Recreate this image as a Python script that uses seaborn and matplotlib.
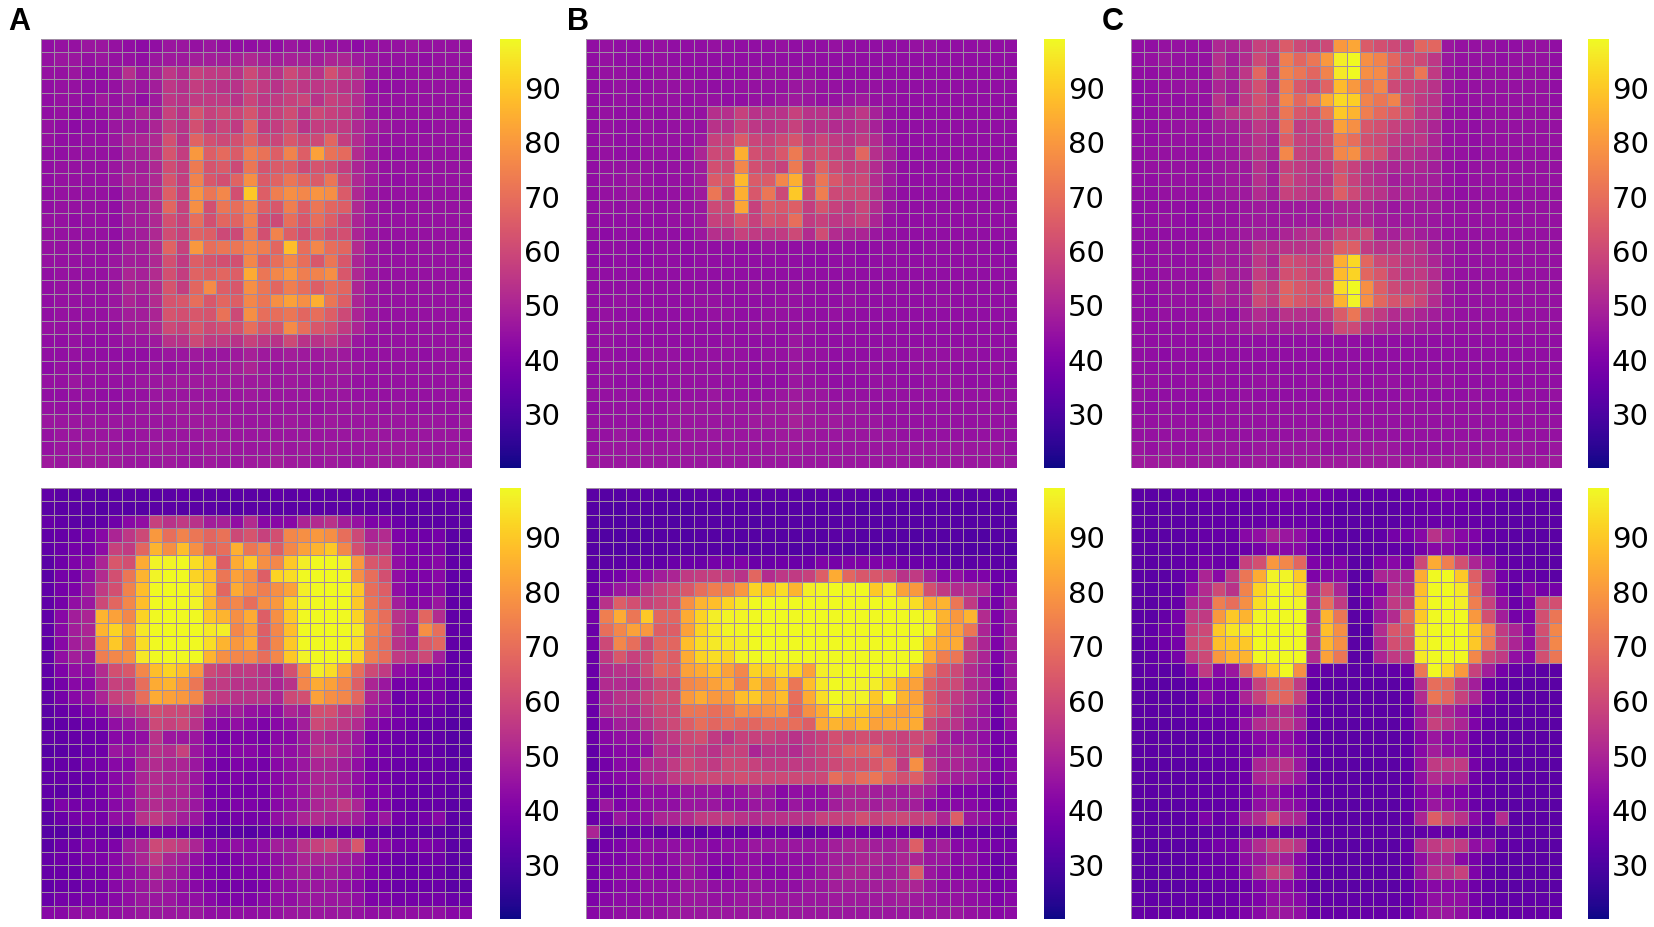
import numpy as np
import seaborn as sns
import matplotlib.pyplot as plt

a_top = [
    [44,45,45,46,46,45,44,43,44,46,46,45,46,45,44,44,45,44,46,45,46,45,45,43,45,45,45,46,45,45,45,45],
    [45,46,46,45,46,45,45,44,46,47,47,48,48,48,49,51,49,48,49,49,48,50,50,47,46,45,45,45,44,45,45,45],
    [45,45,46,44,44,46,53,47,49,55,52,58,56,56,54,60,55,54,60,56,54,62,56,53,46,45,44,45,45,45,45,45],
    [44,45,45,44,44,45,48,46,48,55,53,57,55,54,54,59,56,54,58,55,55,56,54,52,45,44,44,45,45,45,45,45],
    [44,45,45,44,47,45,47,44,47,55,54,56,56,56,54,59,55,56,58,59,54,58,56,52,46,45,45,45,45,45,45,45],
    [44,45,44,44,45,46,47,50,48,58,54,63,58,60,59,63,57,58,61,55,60,58,56,52,46,45,45,45,45,45,45,45],
    [45,44,43,44,44,46,47,47,50,57,54,62,56,59,56,67,56,57,61,54,57,57,56,51,48,46,45,45,44,45,45,45],
    [45,44,44,45,45,46,50,50,51,62,54,67,62,60,62,67,60,59,64,60,60,68,57,52,47,45,45,45,45,45,45,45],
    [44,44,45,45,45,45,49,49,52,63,57,80,66,69,65,74,71,66,75,66,82,71,69,52,47,45,44,45,45,45,45,45],
    [44,45,45,45,45,46,48,48,51,61,57,73,63,65,60,72,63,65,66,60,63,62,57,50,47,45,45,45,45,45,45,45],
    [44,45,45,45,45,46,50,49,51,63,57,75,64,62,67,78,65,67,72,68,65,72,60,51,47,45,44,45,45,45,45,45],
    [44,45,45,45,45,44,48,48,52,66,58,79,72,76,62,90,66,74,78,76,79,78,65,51,46,45,45,45,45,45,45,45],
    [44,45,45,45,45,44,48,48,52,68,58,78,62,72,70,76,66,64,74,66,72,68,66,51,46,45,44,45,45,45,45,45],
    [45,45,44,45,45,44,48,48,51,62,58,70,62,68,67,75,62,60,70,64,70,66,60,50,46,45,45,45,45,45,45,45],
    [45,45,45,45,45,44,47,48,51,61,58,67,66,60,60,74,62,75,66,62,66,62,62,50,46,45,45,45,45,45,45,45],
    [45,45,45,45,45,45,48,48,52,67,58,80,70,72,72,76,74,68,88,70,76,70,68,52,46,45,44,45,45,45,45,45],
    [45,45,45,45,45,46,48,48,51,62,56,66,63,62,62,76,66,70,76,70,64,72,64,50,46,45,45,45,45,45,45,45],
    [44,45,45,45,45,46,50,49,52,62,57,67,66,68,66,84,72,76,80,74,75,78,64,51,46,45,45,45,45,45,45,45],
    [44,45,45,45,45,46,50,49,52,63,57,68,77,66,64,78,72,68,74,70,66,70,68,50,46,45,45,45,45,45,45,45],
    [44,45,45,45,45,46,50,48,52,63,64,70,64,68,66,76,72,78,82,78,85,72,66,50,46,45,45,45,45,45,45,45],
    [44,45,45,45,45,46,48,48,50,63,62,64,63,71,60,78,70,70,72,68,70,66,60,50,46,45,45,45,45,45,45,45],
    [45,45,45,45,45,45,48,48,51,60,58,64,60,62,62,70,64,64,77,70,64,62,56,50,46,45,45,45,45,45,45,45],
    [44,44,45,44,44,45,46,46,47,54,54,60,56,56,54,58,55,54,60,54,54,56,52,46,45,45,45,45,45,45,45,45],
    [44,44,45,44,44,44,44,44,45,46,46,47,46,46,47,49,47,47,48,47,47,48,47,45,45,45,45,45,44,45,45,45],
    [43,45,44,45,45,45,45,45,46,45,46,46,47,47,48,50,47,46,47,47,46,47,47,46,45,45,45,45,45,45,45,45],
    [45,45,46,45,45,45,45,46,46,47,47,47,47,47,47,47,47,46,47,46,46,47,46,45,45,45,45,45,45,45,45,45],
    [44,44,45,45,44,44,45,45,46,46,46,46,46,46,46,47,46,46,46,46,46,46,46,45,45,45,45,45,45,45,45,45],
    [45,45,45,45,45,45,45,46,46,47,47,47,47,46,46,46,46,46,46,46,45,46,46,46,46,45,46,45,45,45,45,45],
    [46,46,46,46,46,46,46,46,46,46,47,47,47,47,46,46,46,46,47,46,46,47,46,46,46,46,46,46,46,46,45,46],
    [45,46,46,46,46,46,45,46,46,46,46,46,47,46,46,46,46,46,46,46,46,46,46,46,47,46,46,46,46,46,46,45],
    [45,46,46,47,47,46,46,46,47,47,46,46,47,47,46,46,46,47,46,47,46,47,46,46,46,47,47,47,46,46,46,46],
    [47,46,47,47,47,47,46,46,46,47,46,46,47,46,46,47,47,48,47,47,46,47,46,46,47,47,47,47,47,46,47,47],
]

b_top = [
    [44,45,44,44,44,45,44,44,44,45,44,44,44,44,45,44,44,44,45,44,44,44,44,44,45,45,44,44,44,45,44,44],
    [44,45,44,44,44,45,44,44,44,44,44,44,44,44,44,44,44,44,44,44,44,44,44,44,44,44,44,44,44,44,44,44],
    [44,45,45,44,44,45,45,44,44,44,44,44,45,45,45,45,45,44,44,44,44,44,44,44,44,44,44,44,44,44,44,44],
    [44,44,45,44,44,45,45,45,44,44,44,45,45,45,45,46,46,45,45,44,45,45,44,44,44,44,44,44,44,44,44,44],
    [44,44,45,44,45,45,45,44,45,45,44,44,45,45,46,47,46,45,45,46,47,45,45,44,44,44,44,44,44,44,44,44],
    [44,45,44,44,45,44,45,45,45,53,53,58,54,54,54,58,54,54,52,52,55,49,45,44,44,44,44,44,44,44,44,44],
    [44,45,44,44,45,44,45,45,45,54,53,58,55,54,55,58,53,54,52,52,54,49,45,44,44,44,44,44,44,44,44,44],
    [44,45,44,44,45,45,45,45,46,58,58,65,59,58,60,63,56,59,56,54,56,52,46,44,44,44,44,44,44,44,44,44],
    [44,45,44,44,45,45,45,45,50,60,60,85,62,60,64,73,60,62,58,56,68,53,49,44,44,44,44,44,44,44,44,44],
    [44,45,45,45,45,44,45,45,47,62,60,76,62,60,58,73,58,67,60,57,58,52,47,44,44,44,44,44,44,44,44,44],
    [44,45,45,46,45,44,45,45,47,65,64,87,65,65,76,85,60,72,64,59,60,52,47,44,44,44,44,44,44,44,44,44],
    [44,45,45,46,45,44,45,45,47,72,60,85,64,72,60,90,60,74,60,60,60,53,46,44,44,44,44,44,44,44,44,44],
    [44,45,44,45,45,44,45,45,46,60,60,83,58,65,64,66,57,63,58,55,59,52,46,44,44,44,44,44,44,44,44,44],
    [44,44,44,44,44,44,45,45,46,58,58,64,58,63,62,70,56,58,55,56,58,50,45,44,44,44,44,44,44,44,44,44],
    [44,43,44,44,44,44,44,44,46,53,53,58,56,55,56,60,52,61,52,50,50,46,45,44,44,44,44,44,44,44,44,44],
    [43,44,44,43,43,44,44,43,44,44,44,44,44,45,44,44,44,44,44,44,43,44,44,44,43,44,44,44,44,44,43,43],
    [43,43,44,43,43,44,44,43,44,44,44,44,44,44,44,44,43,43,44,44,43,44,44,44,44,44,44,44,44,44,44,43],
    [44,44,44,44,44,44,44,44,44,44,44,44,44,44,44,44,44,44,44,44,44,44,44,44,44,44,44,44,44,44,44,44],
    [44,44,44,44,44,44,44,44,44,44,44,44,45,44,44,45,44,44,44,44,44,44,44,44,44,44,44,44,44,44,44,44],
    [44,44,45,44,44,44,44,44,45,45,44,44,44,44,45,45,44,44,44,45,44,44,44,44,44,44,45,44,44,44,44,44],
    [44,45,44,44,44,44,44,44,44,45,45,44,44,45,45,45,44,44,45,44,44,44,44,44,44,44,44,44,44,44,44,44],
    [44,45,45,44,44,44,44,44,44,44,44,44,45,45,44,45,45,44,44,44,44,44,44,44,44,44,44,44,44,44,44,44],
    [44,45,44,44,44,44,44,44,44,44,45,44,44,44,44,46,44,44,44,44,44,44,44,44,44,44,44,44,44,44,44,44],
    [44,45,44,44,45,45,45,44,45,45,45,45,44,45,45,46,45,45,44,44,44,44,45,44,45,45,45,45,45,44,44,44],
    [44,45,45,44,45,45,45,45,45,45,45,45,44,45,44,46,45,44,44,44,45,45,44,44,45,45,45,44,44,44,45,44],
    [44,45,44,44,44,44,45,45,45,45,45,45,44,44,44,46,45,45,44,44,44,45,45,44,44,45,45,45,44,44,44,44],
    [45,45,45,45,45,45,45,45,45,46,45,45,45,45,46,47,46,46,45,45,45,45,45,45,45,45,45,45,45,45,45,45],
    [44,45,45,45,45,45,46,46,46,46,46,46,46,47,47,48,47,46,46,46,46,45,45,45,45,45,45,45,45,45,45,45],
    [45,45,45,45,45,45,46,46,46,46,46,46,47,47,47,49,47,47,47,46,46,46,45,45,45,45,45,45,45,45,45,45],
    [45,45,46,45,45,45,46,46,46,46,46,46,46,46,47,47,47,46,46,46,46,46,46,45,45,45,45,45,45,45,45,45],
    [45,46,46,46,46,46,46,46,46,46,46,46,46,46,47,47,46,46,46,46,46,46,46,46,46,46,46,46,46,46,46,45],
    [46,46,46,46,46,46,46,46,46,46,46,46,46,46,46,46,46,46,46,46,46,46,46,46,46,46,46,46,46,46,46,46],
]

c_top = [
    [44,44,45,45,45,45,51,50,52,58,57,65,60,58,60,80,83,65,62,60,58,68,68,46,45,45,45,44,44,45,45,44],
    [44,45,46,45,45,45,53,48,52,60,55,74,68,72,80,97,99,78,75,68,62,60,55,46,45,45,45,44,45,45,45,44],
    [44,44,45,45,45,45,53,49,55,68,55,75,72,68,75,96,99,78,77,66,62,72,56,46,45,45,45,45,45,45,45,44],
    [43,44,45,45,46,45,50,48,56,62,54,74,64,60,67,87,80,72,76,60,58,57,54,46,45,45,45,45,45,45,45,44],
    [43,44,45,44,45,45,54,48,56,62,57,76,68,73,84,93,91,75,72,75,60,56,54,46,45,45,45,45,45,45,45,44],
    [43,44,45,45,45,45,52,55,56,60,56,72,64,62,72,90,86,74,69,66,62,55,54,45,45,44,45,45,45,45,45,45],
    [44,44,45,45,46,45,48,48,50,55,52,70,56,58,60,82,78,64,62,58,56,54,50,45,45,44,45,45,45,45,45,45],
    [44,44,45,45,45,45,47,47,50,54,50,66,58,56,60,74,70,62,60,56,54,55,50,45,45,44,45,45,45,45,45,45],
    [44,45,45,45,45,45,47,47,50,54,50,76,58,56,60,76,78,64,62,54,54,52,50,45,45,44,45,45,45,45,45,45],
    [44,45,45,45,45,45,46,47,47,53,48,58,56,54,55,62,58,54,52,50,50,50,48,45,44,45,45,45,45,45,45,45],
    [44,44,45,45,45,45,46,47,47,53,48,60,56,54,54,64,58,54,52,48,49,49,48,45,44,45,45,45,45,45,45,45],
    [44,44,45,45,45,45,46,47,47,52,48,58,56,54,56,66,60,55,54,50,50,49,48,45,44,45,45,45,45,45,45,45],
    [43,44,44,44,43,45,45,45,46,47,46,47,47,47,48,50,50,50,48,46,47,47,47,45,45,45,45,45,44,45,45,45],
    [43,44,45,44,43,45,45,45,46,47,46,47,47,47,48,50,50,50,48,47,47,47,46,45,45,45,45,45,45,45,45,45],
    [44,44,44,44,44,45,45,46,47,48,47,50,52,54,52,58,58,60,50,49,50,48,47,45,45,45,45,45,45,45,45,45],
    [43,44,45,44,45,45,48,47,48,54,52,54,54,54,58,66,66,56,54,54,54,53,48,46,45,45,45,45,45,45,45,45],
    [44,44,45,44,45,45,48,47,48,55,50,62,60,58,60,85,93,68,60,58,55,54,50,46,45,45,45,45,45,45,45,45],
    [44,44,45,45,45,45,52,48,48,57,52,62,62,58,60,87,92,68,64,58,55,56,52,46,45,45,45,45,45,45,45,45],
    [44,44,45,45,45,45,52,48,49,60,56,67,64,62,62,94,99,78,66,60,58,58,53,46,45,45,45,45,45,45,45,45],
    [44,43,45,45,45,45,50,48,49,60,56,67,64,62,65,86,98,78,68,63,63,59,52,46,45,45,45,45,45,45,45,45],
    [44,44,45,44,45,45,46,44,48,52,49,54,53,52,56,65,72,60,56,52,52,50,48,46,45,45,45,45,45,45,45,45],
    [44,44,44,44,45,45,46,46,47,49,47,48,48,48,50,60,60,52,50,48,48,47,46,45,45,45,45,45,45,45,45,45],
    [44,44,44,44,44,44,44,44,44,44,44,44,44,44,44,44,44,44,44,44,44,44,44,44,44,44,44,44,44,44,44,44],
    [44,44,43,44,44,44,44,44,44,44,44,44,44,44,44,44,44,44,44,44,44,44,44,44,44,44,44,44,44,44,44,44],
    [44,44,44,44,44,44,44,44,44,44,44,44,44,44,44,44,44,44,44,44,44,44,44,44,44,44,44,44,44,44,44,44],
    [44,45,44,44,45,45,45,44,44,45,45,44,44,45,44,44,45,44,45,45,44,45,45,45,44,44,44,45,44,44,44,44],
    [45,44,44,44,44,44,44,44,45,44,44,44,44,44,45,44,45,44,44,44,45,44,44,44,44,45,44,44,44,45,44,45],
    [44,44,45,44,44,44,44,45,45,45,45,45,45,45,45,45,45,45,45,45,45,45,45,45,45,45,45,45,45,45,44,44],
    [45,45,45,45,45,45,45,45,45,45,45,45,45,45,45,45,45,45,45,45,45,45,45,45,45,45,45,45,45,45,45,45],
    [45,45,45,45,45,46,45,45,45,45,45,45,45,46,45,45,46,45,45,45,45,45,45,45,45,45,45,45,45,45,45,45],
    [46,45,46,45,45,46,46,46,45,46,46,46,46,46,45,45,46,46,47,46,45,45,45,45,46,45,46,46,46,46,45,46],
    [47,47,47,47,46,47,46,46,46,47,46,46,47,47,47,47,47,47,47,47,47,47,47,47,47,47,47,47,47,46,47,47],
]

a_bottom = [
    [34,33,33,33,32,33,33,33,33,33,34,33,33,33,33,33,33,34,33,34,33,33,33,33,33,33,33,33,33,33,34,33],
    [33,33,33,33,32,33,32,32,33,33,32,33,33,32,32,33,33,33,33,33,33,33,33,33,33,33,32,33,33,33,33,33],
    [35,34,33,33,34,37,42,44,58,54,56,54,48,49,44,52,42,42,42,50,52,54,48,45,40,40,36,33,33,33,33,33],
    [34,35,36,38,42,50,55,60,80,70,75,72,68,71,60,63,58,62,76,78,80,78,70,60,50,52,40,38,37,38,33,33],
    [34,36,38,38,43,58,56,68,86,78,88,78,68,70,85,72,76,66,76,82,86,90,76,62,54,56,42,40,38,40,33,34],
    [33,37,40,42,50,64,62,84,98,98,99,94,88,66,84,90,78,76,90,97,99,99,98,80,64,62,44,40,40,42,34,34],
    [33,38,38,44,52,62,72,86,98,99,99,92,88,72,82,78,66,92,94,99,99,99,99,78,70,62,44,40,40,42,34,34],
    [34,38,40,46,56,62,75,88,99,99,99,96,88,68,84,78,74,78,82,97,99,99,99,90,70,66,44,40,40,42,34,34],
    [34,38,44,46,60,68,76,88,99,99,99,98,86,74,76,70,78,80,92,98,99,99,99,90,72,68,48,42,42,46,34,34],
    [34,42,48,50,86,82,76,92,99,99,99,99,90,86,78,84,66,78,90,99,99,99,99,92,75,70,54,50,68,52,34,34],
    [34,42,48,50,86,92,82,96,99,99,99,99,96,97,76,82,66,76,88,99,99,99,99,96,76,72,54,48,78,70,34,34],
    [34,42,48,50,78,90,78,94,99,99,99,99,94,86,80,84,66,76,90,99,99,99,99,94,74,70,54,50,65,68,34,34],
    [34,44,48,46,74,76,78,96,99,99,99,99,86,78,76,76,70,76,90,98,99,99,99,92,74,70,56,54,60,48,34,34],
    [34,40,44,44,52,62,64,76,88,92,88,80,60,58,56,56,54,52,62,78,97,94,82,70,60,56,44,42,38,40,34,34],
    [34,38,42,42,50,58,58,70,84,86,80,72,56,56,54,54,54,50,54,76,84,82,76,66,50,46,38,38,38,38,34,34],
    [34,38,42,44,50,58,60,70,84,82,80,76,58,56,54,54,54,50,60,62,82,78,76,68,50,46,36,38,38,38,34,34],
    [33,35,37,40,42,50,52,56,62,60,60,56,48,46,48,45,44,44,50,48,62,62,56,56,46,44,38,36,36,36,33,33],
    [33,34,35,37,38,44,46,50,60,58,60,54,44,42,44,42,40,42,44,48,60,58,55,52,44,40,38,36,34,34,32,32],
    [34,34,35,36,36,42,42,44,54,46,46,46,40,38,40,40,38,42,42,46,52,50,50,46,38,38,36,35,34,34,32,32],
    [32,33,34,36,37,46,45,48,54,52,58,46,42,40,42,42,40,44,44,46,54,54,50,46,40,38,36,36,35,34,32,32],
    [34,35,35,38,38,42,42,50,52,50,50,46,40,38,40,40,38,42,44,46,50,50,48,44,38,38,36,35,35,35,33,33],
    [34,35,35,36,38,42,44,50,52,50,50,46,40,38,40,38,40,42,44,46,50,50,48,44,40,38,36,36,35,35,34,33],
    [34,33,34,36,38,42,44,50,52,50,50,46,38,38,38,38,38,42,44,46,50,50,48,44,40,40,36,35,34,35,33,33],
    [34,40,38,38,38,42,44,50,52,50,50,46,40,38,40,40,38,42,44,46,50,52,56,50,40,40,36,35,35,35,33,33],
    [33,36,38,40,38,44,44,54,56,52,48,46,38,36,38,38,38,44,46,50,52,50,50,48,42,46,38,36,38,42,33,33],
    [32,32,33,35,35,33,35,36,38,38,36,36,34,32,33,32,34,36,36,36,36,36,36,36,34,34,33,34,33,33,32,32],
    [33,36,37,40,38,40,48,50,60,58,56,50,42,42,44,42,44,48,48,54,58,60,54,64,42,42,38,38,40,38,33,33],
    [35,37,37,40,40,42,46,50,56,50,48,44,40,38,40,42,42,44,46,50,50,50,48,46,40,38,36,35,37,37,33,33],
    [35,36,36,38,38,42,44,46,50,48,46,42,40,38,40,40,40,44,46,48,46,48,46,44,40,38,36,36,36,36,33,33],
    [34,36,36,38,38,42,44,46,48,46,44,42,40,38,38,38,40,44,44,46,46,46,44,42,38,38,36,36,36,36,33,33],
    [36,38,38,40,40,42,44,46,46,46,44,44,42,40,40,40,42,44,44,46,46,46,46,44,40,40,38,38,38,38,36,36],
    [42,42,44,44,44,44,45,46,46,46,46,46,44,44,44,44,44,45,46,46,46,46,46,45,44,44,44,44,44,44,42,42],
]

b_bottom = [
    [33,32,32,33,33,32,32,32,33,33,33,33,33,33,33,33,32,33,33,33,33,32,33,33,33,33,33,33,32,33,32,33],
    [32,31,31,32,32,32,31,31,32,32,32,32,32,32,32,32,32,32,32,32,31,32,32,32,32,32,32,32,32,32,32,32],
    [32,31,31,31,31,32,31,31,32,32,32,32,31,32,32,32,32,32,32,33,32,32,32,32,32,32,32,32,32,32,32,32],
    [32,31,31,32,31,32,32,31,32,32,32,32,32,32,32,32,32,32,33,33,32,32,32,32,31,32,32,32,31,31,32,32],
    [32,31,31,31,32,32,32,32,32,32,32,31,32,32,32,31,32,32,32,31,32,32,32,32,32,32,31,31,31,31,32,31],
    [33,33,33,34,34,34,36,36,36,38,38,40,36,36,37,36,36,40,38,40,40,40,40,36,36,36,34,33,33,34,33,33],
    [34,37,38,42,44,48,50,56,57,58,56,54,68,52,55,56,58,66,84,68,64,64,62,54,56,48,42,44,40,40,36,36],
    [36,42,46,46,54,58,60,64,70,74,74,80,92,88,94,86,97,98,99,98,99,90,96,82,80,62,56,52,52,50,38,42],
    [36,54,66,62,58,60,62,78,86,88,92,96,99,99,99,99,99,99,99,99,99,99,99,97,94,84,86,72,56,44,38,46],
    [38,74,84,72,90,68,68,84,92,97,98,98,99,99,99,99,99,99,99,99,99,99,99,99,99,96,86,80,86,52,40,46],
    [36,70,76,82,80,66,66,82,92,96,98,98,99,99,99,99,99,99,99,99,99,99,99,99,99,97,84,82,72,50,40,46],
    [38,60,76,70,60,68,68,88,94,96,96,97,99,99,99,99,99,99,99,99,99,99,99,99,99,88,84,84,58,50,40,48],
    [36,56,64,58,60,68,66,84,92,94,92,98,99,99,99,99,99,99,99,99,99,99,99,99,99,84,74,72,56,50,40,46],
    [36,52,54,54,60,68,66,82,84,88,82,76,92,90,94,92,82,97,98,99,99,99,98,99,88,72,64,60,52,48,38,46],
    [36,52,52,50,56,60,60,76,78,82,84,74,88,80,88,72,88,96,99,98,98,97,92,84,82,66,62,60,52,50,38,46],
    [38,50,54,54,58,62,62,80,84,80,80,88,90,84,88,70,84,94,99,97,98,90,99,86,82,66,60,56,52,48,38,44],
    [36,50,52,50,56,60,60,72,72,70,72,78,76,78,80,68,78,84,95,92,90,86,84,82,84,66,62,54,50,46,38,44],
    [36,44,48,48,54,58,60,66,70,68,70,68,68,70,70,70,66,84,86,84,88,82,84,84,84,60,56,54,48,46,36,44],
    [36,42,44,44,48,54,56,60,62,56,54,58,58,58,56,54,56,58,62,60,62,60,60,58,60,60,50,46,46,44,38,40],
    [34,40,42,42,44,54,52,58,56,54,58,58,50,54,54,52,56,58,62,66,66,68,62,58,62,52,50,50,48,44,38,40],
    [34,38,42,42,52,52,56,60,58,56,60,60,58,56,56,56,56,58,60,62,62,64,68,56,78,56,50,50,48,46,38,42],
    [36,40,42,42,50,52,56,58,60,60,60,62,60,60,60,60,60,60,70,66,70,72,66,62,66,56,50,48,48,44,38,42],
    [38,36,38,40,44,44,44,46,46,46,44,46,48,46,42,44,44,44,48,50,50,48,48,48,50,48,42,40,40,38,34,38],
    [36,46,40,42,44,44,44,46,46,46,44,44,46,46,42,46,44,44,48,50,50,48,50,48,48,42,42,42,42,40,36,38],
    [36,38,46,42,44,50,50,52,56,56,56,54,52,54,54,54,54,58,58,58,62,58,60,60,58,58,50,66,46,44,40,42],
    [50,34,33,35,36,33,34,34,33,36,34,34,36,36,36,34,33,35,36,38,37,36,38,37,36,36,35,34,36,34,34,33],
    [34,38,40,42,44,44,44,44,44,42,44,44,46,46,46,46,46,46,48,50,50,48,48,50,66,46,48,42,42,40,38,38],
    [38,40,40,42,44,42,44,46,44,42,42,44,44,42,44,44,44,46,48,48,50,50,48,50,50,46,46,42,44,40,36,38],
    [38,40,42,42,44,42,42,46,44,40,40,44,44,42,42,44,44,46,48,50,50,48,48,50,66,46,44,42,42,40,36,38],
    [38,40,42,42,44,44,44,46,46,44,44,44,46,44,44,44,46,46,48,48,48,48,48,50,50,46,44,44,44,42,38,40],
    [40,42,43,43,44,44,45,46,46,45,45,46,46,46,46,46,46,46,47,47,47,47,47,48,47,46,45,45,44,43,40,42],
    [42,43,44,44,45,45,46,46,46,46,46,46,46,46,46,46,46,46,46,46,46,46,46,46,46,46,46,46,45,44,42,43],
]

c_bottom = [
    [33,33,33,34,34,36,35,36,36,36,38,40,38,40,36,35,34,34,34,34,34,36,38,38,37,36,36,34,33,34,33,33],
    [33,33,33,33,33,34,34,34,34,35,36,36,36,35,34,33,33,33,33,33,34,35,36,36,36,35,34,33,33,33,33,33],
    [33,33,33,33,33,34,34,34,35,35,36,36,36,35,34,33,33,33,33,33,34,35,36,36,35,35,34,33,33,33,33,33],
    [33,33,33,33,34,35,35,35,42,44,50,46,44,38,36,34,33,33,34,38,38,42,54,46,42,40,35,34,33,33,33,33],
    [33,33,33,33,34,35,34,35,36,38,42,42,42,36,34,33,33,33,33,34,34,38,42,42,40,38,34,33,33,33,33,33],
    [33,33,33,34,35,38,36,36,58,62,80,76,68,40,38,40,33,33,40,42,38,60,84,74,62,50,44,36,34,34,33,33],
    [33,33,33,34,38,50,42,55,72,84,98,98,90,40,42,42,33,33,50,50,50,84,99,99,90,66,50,38,35,35,34,33],
    [33,33,34,34,44,52,60,54,75,92,98,99,94,50,62,50,33,38,40,54,52,88,99,99,96,70,50,40,34,42,38,38],
    [33,33,34,35,50,52,74,70,78,94,99,99,98,52,70,56,33,36,46,56,56,90,99,99,97,74,58,44,36,40,60,62],
    [33,33,35,38,56,56,80,90,86,98,99,99,99,52,86,72,33,34,46,52,68,90,99,99,99,80,62,48,38,40,62,72],
    [33,34,37,38,58,60,90,95,96,99,99,99,99,54,88,78,32,32,52,64,64,96,99,99,99,90,76,56,50,42,62,76],
    [33,35,37,38,60,62,88,90,90,99,99,99,99,54,86,78,33,33,50,62,62,96,99,99,99,90,74,58,50,44,60,76],
    [33,34,36,38,56,60,80,86,86,99,99,99,99,52,82,72,33,33,50,56,56,96,99,99,99,76,60,56,44,42,62,72],
    [33,34,33,33,42,56,42,46,66,80,90,99,78,36,34,34,33,33,34,34,36,72,99,92,80,58,48,38,35,34,33,33],
    [33,33,33,33,34,40,38,38,44,58,66,68,56,34,33,33,33,33,33,33,34,52,70,68,56,48,36,34,33,33,33,33],
    [33,33,33,33,34,44,38,38,50,58,68,68,58,36,33,33,33,33,33,33,35,52,72,68,58,50,38,34,33,33,33,33],
    [33,33,33,33,34,35,35,36,40,44,50,52,46,34,33,33,33,33,33,33,34,44,54,50,46,38,34,33,33,33,33,33],
    [33,33,33,33,34,36,35,37,44,52,54,56,50,34,33,33,33,33,33,33,35,46,58,54,50,40,34,33,33,33,33,33],
    [33,33,33,33,33,34,34,35,38,42,42,44,40,33,33,33,33,33,33,33,34,40,46,42,44,36,34,33,33,33,33,33],
    [33,33,33,33,33,36,34,35,37,40,44,44,42,34,33,33,33,33,33,33,34,42,48,44,44,36,34,33,33,33,33,33],
    [33,33,33,33,33,34,34,35,37,50,52,54,46,33,33,33,33,32,33,33,34,44,56,56,56,38,34,33,33,33,33,33],
    [33,33,33,33,33,34,34,35,37,50,52,50,46,33,33,33,33,32,33,33,34,44,52,50,50,37,34,33,33,33,33,33],
    [33,33,33,33,34,34,34,35,36,42,44,40,38,34,33,33,33,33,33,33,34,40,44,40,40,36,34,33,33,33,33,33],
    [33,33,33,33,34,34,34,35,37,44,46,44,42,34,33,33,33,33,33,33,34,40,46,44,42,36,34,33,33,33,33,33],
    [33,33,33,33,34,40,35,38,48,52,62,52,50,34,33,33,33,33,33,33,35,50,66,58,54,42,36,52,33,33,33,33],
    [33,33,33,33,33,33,34,33,34,36,36,35,35,33,33,33,33,33,33,33,33,34,35,35,35,34,33,33,33,33,33,33],
    [33,33,33,33,33,36,38,38,46,52,58,58,54,34,33,33,33,33,33,33,35,52,56,58,56,44,44,34,34,33,33,33],
    [33,33,33,33,34,36,36,37,44,46,50,48,42,34,33,33,33,33,33,33,35,44,50,50,42,38,34,33,33,33,33,33],
    [33,33,33,33,34,36,36,37,42,50,58,56,44,34,33,33,33,33,33,33,35,46,54,54,58,40,34,33,33,33,33,33],
    [33,33,33,33,34,34,35,35,36,40,44,42,38,33,33,33,33,33,33,33,34,40,42,42,42,37,34,33,33,33,33,33],
    [34,34,34,34,35,35,35,36,38,40,44,44,42,35,34,34,34,34,34,34,35,40,44,44,44,38,35,34,34,34,34,34],
    [35,35,35,35,36,36,36,37,40,42,46,46,44,36,35,35,35,35,35,35,36,42,46,46,44,40,36,35,35,35,35,35],
]

tick_vals = [30, 40, 50, 60, 70, 80, 90]
panel_labels = ["A", "B", "C"]

W, H = 1654, 927
panel_left = [41, 586, 1131]
cbar_left = [500, 1044, 1588]
label_x = [8, 567, 1102]
panel_rows = [(39, 468), (488, 919)]

fig = plt.figure(figsize=(W / 100, H / 100), dpi=100)
panels = [[a_top, b_top, c_top], [a_bottom, b_bottom, c_bottom]]

for r, (y0, y1) in enumerate(panel_rows):
    for c in range(3):
        ax = fig.add_axes([panel_left[c] / W, 1 - y1 / H, 431 / W, (y1 - y0) / H])
        cax = fig.add_axes([cbar_left[c] / W, 1 - y1 / H, 21 / W, (y1 - y0) / H])
        sns.heatmap(
            np.array(panels[r][c]),
            ax=ax,
            cbar_ax=cax,
            cmap="plasma",
            vmin=20.1,
            vmax=99.0,
            linewidths=0.5,
            linecolor="#a08ca4",
            xticklabels=False,
            yticklabels=False,
            cbar_kws={"ticks": tick_vals},
        )
        cax.tick_params(length=0, labelsize=21, pad=2)

for x, lab in zip(label_x, panel_labels):
    fig.text(x / W, 1 - 30 / H, lab, fontsize=22, fontweight="bold", family="Liberation Sans")

fig.savefig("out.png", dpi=100)
